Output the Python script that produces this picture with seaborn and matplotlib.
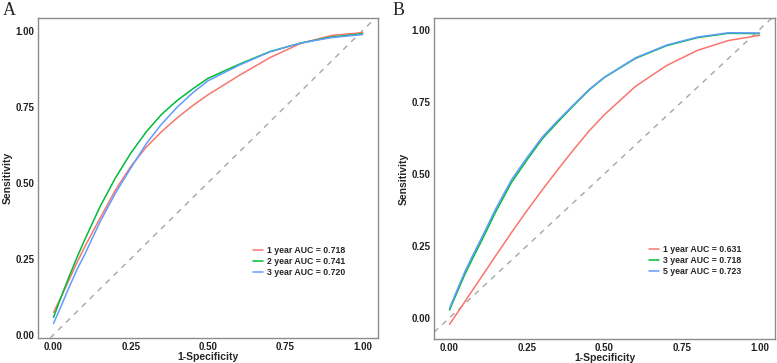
import seaborn as sns
import matplotlib.pyplot as plt
import pandas as pd

# false positive rate grid shared by all curves
fpr = [0, 0.025, 0.05, 0.075, 0.1, 0.15, 0.2, 0.25, 0.3, 0.35, 0.4, 0.45, 0.5, 0.6, 0.7, 0.8, 0.9, 1.0]

# panel A sensitivities
a_1y = [0.073, 0.125, 0.180, 0.235, 0.287, 0.382, 0.475, 0.553, 0.617, 0.668, 0.713, 0.753, 0.789, 0.852, 0.911, 0.958, 0.984, 0.993]
a_2y = [0.057, 0.125, 0.190, 0.252, 0.310, 0.420, 0.515, 0.597, 0.667, 0.725, 0.770, 0.808, 0.843, 0.889, 0.931, 0.959, 0.979, 0.989]
a_3y = [0.037, 0.095, 0.155, 0.212, 0.262, 0.370, 0.465, 0.548, 0.628, 0.693, 0.748, 0.795, 0.835, 0.886, 0.930, 0.959, 0.977, 0.987]
a_labels = ['1 year AUC = 0.718', '2 year AUC = 0.741', '3 year AUC = 0.720']

# panel B sensitivities
b_1y = [-0.023, 0.017, 0.057, 0.097, 0.137, 0.217, 0.296, 0.372, 0.445, 0.515, 0.583, 0.648, 0.705, 0.803, 0.875, 0.928, 0.962, 0.980]
b_3y = [0.027, 0.090, 0.152, 0.207, 0.260, 0.370, 0.470, 0.548, 0.622, 0.680, 0.736, 0.790, 0.834, 0.900, 0.944, 0.972, 0.987, 0.986]
b_5y = [0.033, 0.098, 0.161, 0.217, 0.270, 0.380, 0.479, 0.556, 0.628, 0.685, 0.739, 0.792, 0.835, 0.902, 0.946, 0.974, 0.989, 0.988]
b_labels = ['1 year AUC = 0.631', '3 year AUC = 0.718', '5 year AUC = 0.723']

ticks = [0.00, 0.25, 0.50, 0.75, 1.00]
tick_labels = ['0.00', '0.25', '0.50', '0.75', '1.00']

palette = ['#F8766D', '#00BA38', '#619CFF']

sns.set_style('white')
plt.rcParams['font.family'] = ['Liberation Sans', 'DejaVu Sans']


def long_df(curves, labels):
    rows = []
    for ys, lab in zip(curves, labels):
        for x, y in zip(fpr, ys):
            rows.append({'fpr': x, 'tpr': y, 'group': lab})
    return pd.DataFrame(rows)


def draw(ax, df, labels, legend_anchor):
    ax.axline((0, 0), slope=1, color='#a6a6a6', lw=1.0, ls=(0, (4, 4)), zorder=1)
    sns.lineplot(data=df, x='fpr', y='tpr', hue='group', hue_order=labels,
                 palette=palette, lw=1.1, ax=ax, sort=False, estimator=None)
    # ggplot-like 5% expansion
    ymin, ymax = df['tpr'].min(), df['tpr'].max()
    pad = (ymax - ymin) * 0.05
    ax.set_xlim(-0.05, 1.05)
    ax.set_ylim(ymin - pad, ymax + pad)
    ax.set_xticks(ticks)
    ax.set_xticklabels(tick_labels)
    ax.set_yticks(ticks)
    ax.set_yticklabels(tick_labels)
    ax.tick_params(axis='both', length=2, width=0.6, color='#555555', pad=0.8,
                   labelsize=7, labelcolor='#222222', direction='out')
    for lab in ax.get_xticklabels() + ax.get_yticklabels():
        lab.set_fontweight('bold')
    ax.set_xlabel('1-Specificity', fontsize=7.5, fontweight='bold', labelpad=0)
    ax.set_ylabel('Sensitivity', fontsize=7.5, fontweight='bold', labelpad=2)
    for s in ax.spines.values():
        s.set_color('#8c8c8c')
        s.set_linewidth(1.0)
    leg = ax.legend(loc='lower left', bbox_to_anchor=legend_anchor, frameon=False,
                    fontsize=6.3, handlelength=1.1, handletextpad=0.5,
                    labelspacing=0.25, borderpad=0, borderaxespad=0)
    for t in leg.get_texts():
        t.set_fontweight('bold')
    for h in leg.get_lines():
        h.set_linewidth(1.1)
    ax.grid(False)


fig = plt.figure(figsize=(7.77, 3.63), dpi=100)
ax_a = fig.add_axes([0.049, 0.069, 0.4376, 0.881])
ax_b = fig.add_axes([0.5586, 0.066, 0.4388, 0.884])

draw(ax_a, long_df([a_1y, a_2y, a_3y], a_labels), a_labels, (0.632, 0.19))
draw(ax_b, long_df([b_1y, b_3y, b_5y], b_labels), b_labels, (0.631, 0.196))

fig.text(0.004, 0.958, 'A', fontsize=13, family='Liberation Serif')
fig.text(0.505, 0.958, 'B', fontsize=13, family='Liberation Serif')

fig.savefig('out.png', dpi=100, facecolor='white')
